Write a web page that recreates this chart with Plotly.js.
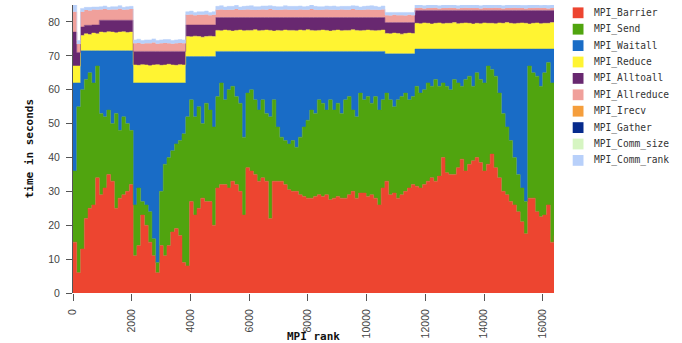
<!DOCTYPE html>
<html><head><meta charset="utf-8">
<script src="https://cdn.plot.ly/plotly-3.0.1.min.js"></script>
<style>html,body{margin:0;padding:0;background:#fff;}#chart{width:682px;height:343px;}</style>
</head><body><div id="chart"></div>
<script>
const ranks = [0,128,256,384,512,640,768,896,1024,1152,1280,1408,1536,1664,1792,1920,
2048,2176,2304,2432,2560,2688,2816,2944,3072,3200,3328,3456,3584,3712,3840,3968,
4096,4224,4352,4480,4608,4736,4864,4992,5120,5248,5376,5504,5632,5760,5888,6016,
6144,6272,6400,6528,6656,6784,6912,7040,7168,7296,7424,7552,7680,7808,7936,8064,
8192,8320,8448,8576,8704,8832,8960,9088,9216,9344,9472,9600,9728,9856,9984,10112,
10240,10368,10496,10624,10752,10880,11008,11136,11264,11392,11520,11648,11776,11904,12032,12160,
12288,12416,12544,12672,12800,12928,13056,13184,13312,13440,13568,13696,13824,13952,14080,14208,
14336,14464,14592,14720,14848,14976,15104,15232,15360,15488,15616,15744,15872,16000,16128,16256,
16384];

const seriesNames = ['MPI_Barrier','MPI_Send','MPI_Waitall','MPI_Reduce','MPI_Alltoall',
  'MPI_Allreduce','MPI_Irecv','MPI_Gather','MPI_Comm_size','MPI_Comm_rank'];
const seriesColors = ['#ED4530','#50A40F','#196CC6','#FFF432','#682870',
  '#F0A09B','#F59E3C','#062A8C','#D6F5C2','#B8D0FA'];

const barrier = [15,6,13,22,25,26,34,29,31,35,33,25,28,29,30,32,
11,14,23,20,15,11,6,14,11,14,18,19,17,9,8,27,
23,25,28,27,27,20,31,32,32,31,33,32,30,23,37,36,
35,33,34,33,22,33,33,33,32,30.5,30,30,29,28.5,28,28,
28.5,29,28.5,29,27.5,28,28.5,28,28,29,30,28,29.5,29.5,28.5,29,
28,26,31,33,29,29.5,28,29,30,31,32,31.5,31,32,33,34,
33,34.5,40,35.5,35,35,37,39.5,36,38,39,40,38.5,36,38,41,
37,34,30,29,27,26,24,21,17.5,28,28,24,22.5,23,26,15,
17];

const send = [21,49,47,41,40,36,33,24,21,19,17,28,20,23,20,16,
15,17,4,6,9,5,3,16,27,26,24,25,28,38,44,30,
29,30,22,29,27,29,27,30,25,29,28,26,26,23,22,24,
22,21,23,20,30,24,16,13,13,13.5,15,13,17,20.5,23,26,
24.5,28,27.5,25,29.5,26,27.5,25,29,29,24,24,29.5,27.5,29.5,27,
30,28,26,26,28,25.5,29,29,29,26,26,29.5,28,28,29,27,
30,26.5,22,25.5,25,28,25,21.5,27,26,22,25,24.5,26,29,25,
27,25,23,20,18,14,11,10,9.5,39,37,40,38.5,42,42,47,
37];

const waitall = [26,7,11.5,8.5,6.5,9.5,4.5,18.5,19.5,17.5,21.5,18.5,23.5,19.5,21.5,23.5,
36,31,35,36,38,46,53,32,24,22,20,18,17,15,17.8,12.8,
17.8,14.8,19.8,13.8,15.8,20.8,13.3,9.3,14.3,11.3,10.3,13.3,15.3,25.3,12.3,11.3,
14.3,17.3,14.3,18.3,19.3,14.3,22.3,25.3,26.3,27.3,26.3,28.3,25.3,22.3,20.3,17.3,
18.3,14.3,15.3,17.3,14.3,17.3,15.3,18.3,14.3,13.3,17.3,19.3,12.3,14.3,13.3,15.3,
13.3,17.3,14.3,11.6,13.6,15.6,13.6,12.6,11.6,13.6,12.6,11,13,12,10,11,
9,11,10,11,12,9,10,11,9,8,11,7,9,10,5,6,
8,13,19,23,27,32,37,41,45,5,7,8,11,7,4,10,
18];

const reduce = [5,5,4.5,5,4.8,5.2,5,
5.5,5.4,5.6,5.5,5.3,5.5,5.6,5.4,5.5,
5.3,5.2,5.4,5.3,5.1,5.3,5.4,5.2,5.3,5.5,5.3,5.2,5.4,5.3,
5.9,5.8,6,5.9,5.7,5.9,6,5.9,
6.2,6.1,6.3,6.2,6,6.2,6.3,6.1,6.2,6.2,6.4,6.1,6.2,6.3,6.2,6,6.2,6.1,6.3,6.2,6.2,6.1,6.3,6.2,6.4,
6.2,6.1,6.2,6.3,6.2,6,6.2,6.3,6.1,6.2,6.2,6.4,6.2,6.1,6.2,6.3,6.2,6.1,6.2,6.3,
6,5.9,6.1,6,5.8,6,6.1,6,
7.6,7.5,7.7,7.6,7.4,7.6,7.7,7.5,7.6,7.6,7.8,7.5,7.6,7.7,7.6,7.4,7.6,7.5,7.7,7.6,
7.6,7.5,7.7,7.6,7.8,7.6,7.5,7.6,7.7,7.6,7.4,7.6,7.7,7.5,7.6,7.6,7.8,7.6];

const alltoall = [10,4,2.5,2.5,2.7,2.4,2.6,
3.5,3.6,3.4,3.5,3.7,3.5,3.4,3.6,3.5,
4,4.1,3.9,4,4.2,4,3.9,4.1,4,3.8,4,4.1,3.9,4,
3.4,3.5,3.3,3.4,3.6,3.4,3.3,3.4,
3.8,3.9,3.7,3.8,4,3.8,3.7,3.9,3.8,3.8,3.6,3.9,3.8,3.7,3.8,4,3.8,3.9,3.7,3.8,3.8,3.9,3.7,3.8,3.6,
3.8,3.9,3.8,3.7,3.8,4,3.8,3.7,3.9,3.8,3.8,3.6,3.8,3.9,3.8,3.7,3.8,3.9,3.8,3.7,
3.2,3.3,3.1,3.2,3.4,3.2,3.1,3.2,
3.8,3.9,3.7,3.8,4,3.8,3.7,3.9,3.8,3.8,3.6,3.9,3.8,3.7,3.8,4,3.8,3.9,3.7,3.8,
3.8,3.9,3.7,3.8,3.6,3.8,3.9,3.8,3.7,3.8,4,3.8,3.7,3.9,3.8,3.8,3.6,3.8];

const allreduce = [6,2.5,4.5,4.5,4.4,4.6,4.5,
3.2,3.3,3.1,3.2,3.2,3.4,3.1,3.2,3.3,
2.4,2.5,2.3,2.4,2.4,2.6,2.3,2.4,2.5,2.4,2.3,2.4,2.5,2.4,
3,3.1,2.9,3,3,3.1,2.9,3,
2.3,2.4,2.2,2.3,2.3,2.5,2.2,2.3,2.4,2.3,2.2,2.3,2.4,2.3,2.5,2.3,2.2,2.3,2.4,2.3,2.3,2.2,2.4,2.3,2.3,
2.5,2.3,2.2,2.3,2.4,2.3,2.3,2.2,2.4,2.3,2.3,2.5,2.3,2.2,2.3,2.4,2.3,2.3,2.2,2.4,
2.2,2.1,2.3,2.2,2.2,2.1,2.3,2.2,
0.7,0.8,0.6,0.7,0.7,0.8,0.6,0.7,0.7,0.8,0.7,0.6,0.7,0.8,0.7,0.7,0.7,0.6,0.8,0.7,
0.7,0.8,0.7,0.6,0.7,0.7,0.8,0.7,0.7,0.6,0.7,0.7,0.8,0.7,0.7,0.6,0.7,0.8];

const irecv = [0,0,0,0,0,0,0,0,0,0,0,0,0,0,0,0,0,0,0,0,0,0,0,0,0,0,0,0,0,0,0,0,
0,0,0,0,0,0,0,0,0,0,0,0,0,0,0,0,0,0,0,0,0,0,0,0,0,0,0,0,0,0,0,0,
0,0,0,0,0,0,0,0,0,0,0,0,0,0,0,0,0,0,0,0,0,0,0,0,0,0,0,0,0,0,0,0,
0,0,0,0,0,0,0,0,0,0,0,0,0,0,0,0,0,0,0,0,0,0,0,0,0,0,0,0,0,0,0,0,0];
const gather = [0,0,0,0,0,0,0,0,0,0,0,0,0,0,0,0,0,0,0,0,0,0,0,0,0,0,0,0,0,0,0,0,
0,0,0,0,0,0,0,0,0,0,0,0,0,0,0,0,0,0,0,0,0,0,0,0,0,0,0,0,0,0,0,0,
0,0,0,0,0,0,0,0,0,0,0,0,0,0,0,0,0,0,0,0,0,0,0,0,0,0,0,0,0,0,0,0,
0,0,0,0,0,0,0,0,0,0,0,0,0,0,0,0,0,0,0,0,0,0,0,0,0,0,0,0,0,0,0,0,0];
const commSize = [0,0,0,0,0,0,0,0,0,0,0,0,0,0,0,0,0,0,0,0,0,0,0,0,0,0,0,0,0,0,0,0,
0,0,0,0,0,0,0,0,0,0,0,0,0,0,0,0,0,0,0,0,0,0,0,0,0,0,0,0,0,0,0,0,
0,0,0,0,0,0,0,0,0,0,0,0,0,0,0,0,0,0,0,0,0,0,0,0,0,0,0,0,0,0,0,0,
0,0,0,0,0,0,0,0,0,0,0,0,0,0,0,0,0,0,0,0,0,0,0,0,0,0,0,0,0,0,0,0,0];

const commRank = [2,1,1,0.8,0.9,0.7,0.8,
0.8,0.9,0.7,0.8,0.8,0.9,0.7,0.8,0.8,
1,1.1,0.9,1,1,1.1,0.9,1,1,1.1,0.9,1,1,1,
0.9,1,0.8,0.9,0.9,1,0.8,0.9,
1,1.1,0.9,1,1,1.1,0.9,1,1,1.2,1,0.9,1,1.1,1,1,1,0.9,1.1,1,1,1.1,1,0.9,1,
1.2,1,1,0.9,1,1,1.1,1,0.9,1,1,1,1.1,0.9,1,1,1.2,1,0.9,1,
0.8,0.9,0.7,0.8,0.8,0.9,0.7,0.8,
0.9,1,0.8,0.9,0.9,1,0.8,0.9,0.9,1.1,0.9,0.8,0.9,1,0.9,0.9,0.9,0.8,1,0.9,
0.9,1,0.9,0.8,0.9,1.1,0.9,0.9,0.8,0.9,0.9,1,0.9,0.8,0.9,0.9,1,1.2];

const xTickVals = [0,2000,4000,6000,8000,10000,12000,14000,16000];
const yTickVals = [0,10,20,30,40,50,60,70,80];

const series = [barrier, send, waitall, reduce, alltoall, allreduce, irecv, gather, commSize, commRank];

const traces = series.map((vals, k) => ({
  type: 'scatter', mode: 'lines', x: ranks, y: vals, name: seriesNames[k],
  stackgroup: 'one', fillcolor: seriesColors[k],
  line: {color: seriesColors[k], width: vals.some(v => v > 0) ? 0.5 : 0, shape: 'hv'},
  hoverinfo: 'skip', showlegend: false
}));

const W = 682, H = 343, ML = 73, MR = 128, MT = 5, MB = 50;
const PW = W - ML - MR, PH = H - MT - MB;
const px2x = p => (p - ML) / PW;
const px2y = p => (H - MB - p) / PH;

const shapes = [];
const annotations = [];
seriesNames.forEach((nm, k) => {
  const cy = 12.8 + 16.4 * k;
  shapes.push({type: 'rect', xref: 'paper', yref: 'paper',
    x0: px2x(572.7), x1: px2x(583.5), y0: px2y(cy + 5.4), y1: px2y(cy - 5.4),
    fillcolor: seriesColors[k], line: {width: 0}});
  annotations.push({xref: 'paper', yref: 'paper', x: px2x(591.5), y: px2y(cy),
    xanchor: 'left', yanchor: 'middle', showarrow: false, text: nm,
    font: {family: 'DejaVu Sans Mono, monospace', size: 9.6, color: '#333'}});
});
annotations.push({xref: 'paper', yref: 'paper', x: 0, y: 0.5, xshift: -43.7,
  xanchor: 'center', yanchor: 'middle', textangle: -90, showarrow: false,
  text: '<b>time in seconds</b>', font: {family: 'DejaVu Sans Mono, monospace', size: 11, color: '#111'}});
annotations.push({xref: 'paper', yref: 'paper', x: 0.5, y: 0, yshift: -43,
  xanchor: 'center', yanchor: 'middle', showarrow: false,
  text: '<b>MPI rank</b>', font: {family: 'DejaVu Sans Mono, monospace', size: 11, color: '#111'}});

const tickFont = {family: 'Liberation Sans, Arial, sans-serif', size: 10.5, color: '#444'};
const layout = {
  width: W, height: H, margin: {l: ML, r: MR, t: MT, b: MB, pad: 0},
  paper_bgcolor: '#fff', plot_bgcolor: '#fff', showlegend: false,
  xaxis: {range: [0, 16384], tickvals: xTickVals, ticktext: xTickVals.map(String),
    tickangle: -90, ticks: 'outside', ticklen: 7, tickcolor: '#555', tickwidth: 1,
    showline: false, showgrid: false, zeroline: false, tickfont: tickFont, ticklabelstandoff: 4},
  yaxis: {range: [0, 85], tickvals: yTickVals, ticks: 'outside', ticklen: 6,
    tickcolor: '#555', tickwidth: 1, showline: true, linecolor: '#555', linewidth: 1,
    showgrid: false, zeroline: false, tickfont: tickFont, ticklabelstandoff: 4},
  shapes: shapes, annotations: annotations
};
Plotly.newPlot('chart', traces, layout, {staticPlot: true, displayModeBar: false});
</script></body></html>
